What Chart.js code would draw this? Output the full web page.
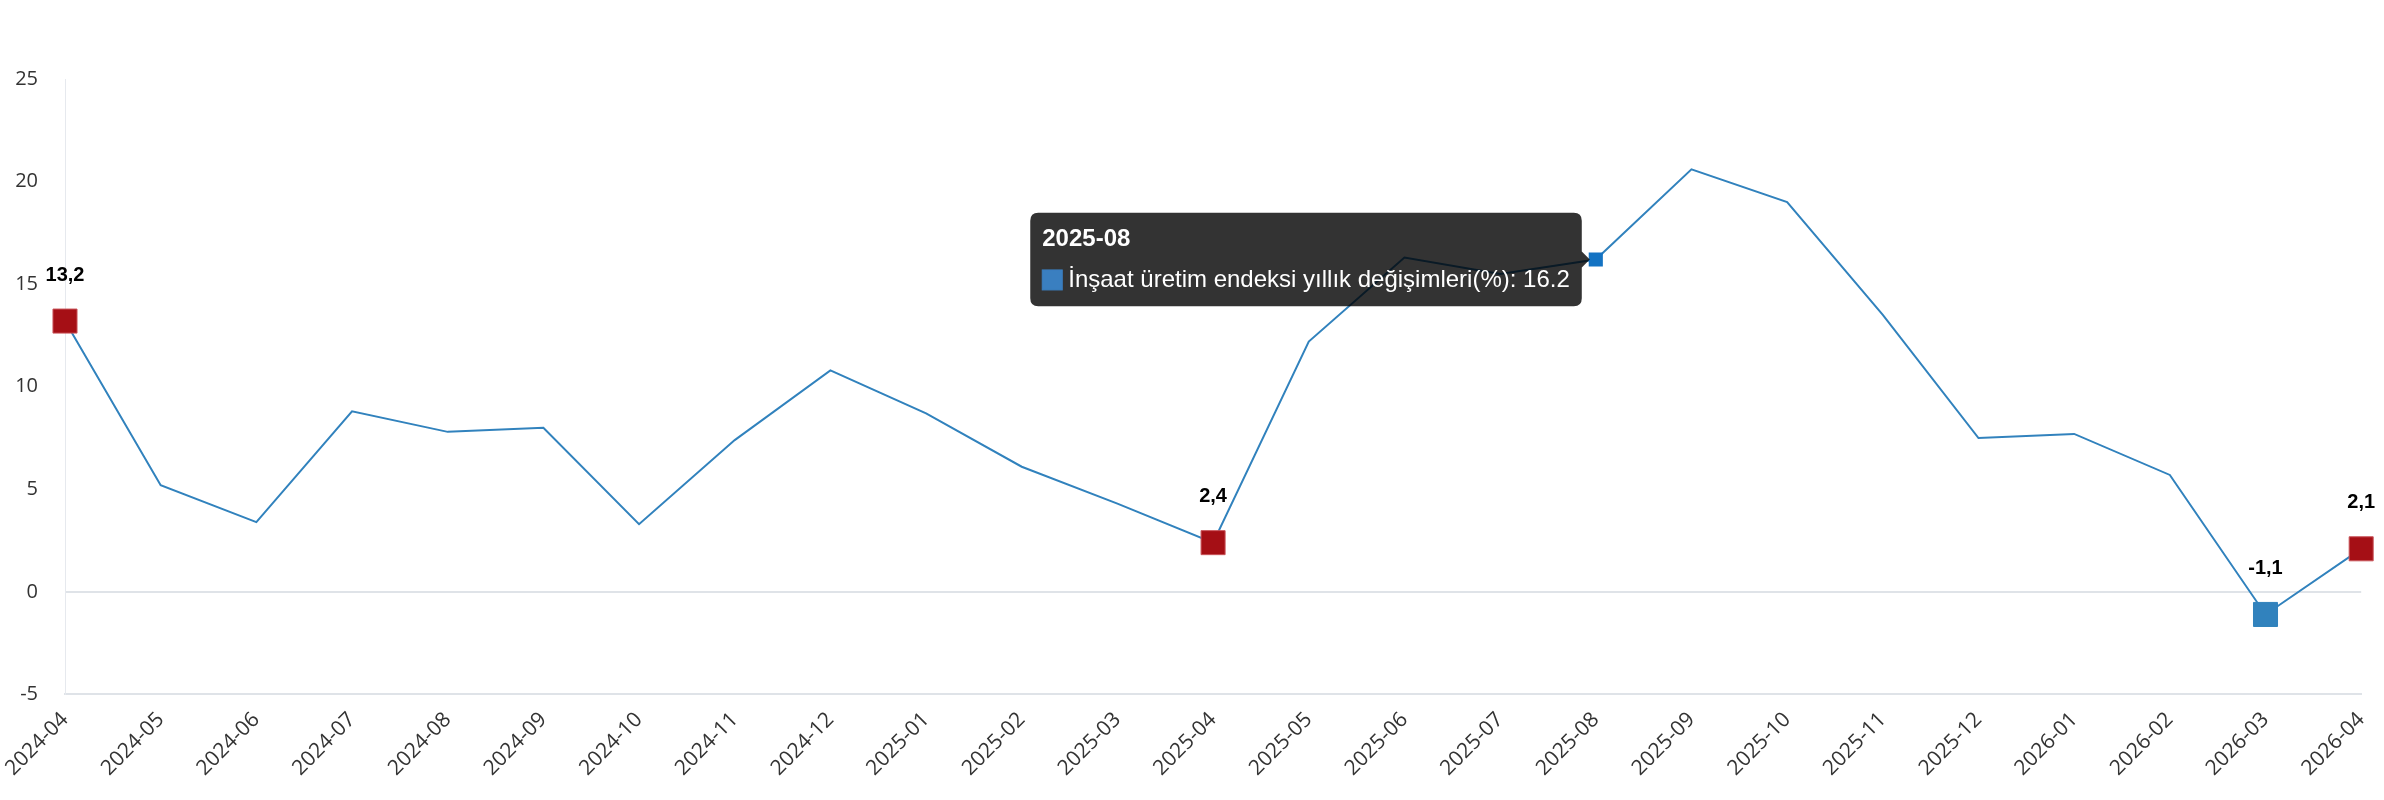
<!DOCTYPE html>
<html>
<head>
<meta charset="utf-8">
<script src="https://cdn.jsdelivr.net/npm/chart.js@4/dist/chart.umd.min.js"></script>
<style>
html,body{margin:0;padding:0;background:#fff;}
#wrap{width:2384px;height:800px;}
</style>
</head>
<body>
<div id="wrap"><canvas id="c" width="2384" height="800"></canvas></div>
<script>
const categories = ['2024-04','2024-05','2024-06','2024-07','2024-08','2024-09','2024-10','2024-11','2024-12',
  '2025-01','2025-02','2025-03','2025-04','2025-05','2025-06','2025-07','2025-08','2025-09','2025-10','2025-11','2025-12',
  '2026-01','2026-02','2026-03','2026-04'];
const values = [13.2, 5.2, 3.4, 8.8, 7.8, 8.0, 3.3, 7.4, 10.8, 8.7, 6.1, 4.3, 2.4, 12.2, 16.3, 15.5, 16.2, 20.6, 19.0, 13.5, 7.5, 7.7, 5.7, -1.1, 2.1];
const seriesName = 'İnşaat üretim endeksi yıllık değişimleri(%)';
const redPoints = ['2024-04','2025-04','2026-04'];
const bluePoints = ['2026-03'];
const hoveredCategory = '2025-08';
const yTicks = [-5, 0, 5, 10, 15, 20, 25];

const LINE = '#3182bd';
const RED = '#a50f15';
const TIP_BOX = '#3a7fc0';

function isMarked(i){ return redPoints.includes(categories[i]) || bluePoints.includes(categories[i]); }

const labelPlugin = {
  id: 'valueLabels',
  afterDatasetsDraw(chart){
    const ctx = chart.ctx;
    const meta = chart.getDatasetMeta(0);
    const ys = chart.scales.y;
    ctx.save();
    ctx.font = 'bold 20px "Liberation Sans", Arial, sans-serif';
    ctx.fillStyle = '#000';
    ctx.textAlign = 'center';
    ctx.textBaseline = 'middle';
    meta.data.forEach((pt, i) => {
      if (!isMarked(i)) return;
      const v = values[i];
      const y = ys.getPixelForValue(v) - 46;
      ctx.fillText(String(v).replace('.', ','), pt.x, y);
    });
    ctx.restore();
  }
};

const chart = new Chart(document.getElementById('c'), {
  type: 'line',
  data: {
    labels: categories,
    datasets: [{
      label: seriesName,
      data: values,
      borderColor: LINE,
      borderWidth: 2,
      backgroundColor: LINE,
      tension: 0,
      pointStyle: 'rect',
      pointRadius: c => isMarked(c.dataIndex) ? 17 : 0,
      pointBackgroundColor: c => redPoints.includes(categories[c.dataIndex]) ? RED : LINE,
      pointBorderColor: c => redPoints.includes(categories[c.dataIndex]) ? '#c9545a' : LINE,
      pointBorderWidth: 1,
      pointHoverRadius: c => isMarked(c.dataIndex) ? 17 : 10,
      pointHoverBackgroundColor: '#1473c3',
      pointHoverBorderColor: '#1473c3',
      pointHoverBorderWidth: 0,
      pointHitRadius: 0
    }]
  },
  options: {
    responsive: false,
    devicePixelRatio: 1,
    animation: false,
    events: [],
    layout: { padding: { top: 79, right: 13, left: 0, bottom: 14 } },
    plugins: {
      legend: { display: false },
      tooltip: {
        enabled: true,
        backgroundColor: 'rgba(0,0,0,0.8)',
        titleFont: { family: '"Liberation Sans", Arial, sans-serif', size: 24, weight: 'bold' },
        bodyFont: { family: '"Liberation Sans", Arial, sans-serif', size: 24 },
        titleMarginBottom: 12,
        padding: 12,
        caretSize: 8,
        caretPadding: 6,
        cornerRadius: 8,
        boxWidth: 20,
        boxHeight: 20,
        boxPadding: 4,
        multiKeyBackground: TIP_BOX,
        displayColors: true,
        callbacks: {
          labelColor: () => ({ borderColor: TIP_BOX, backgroundColor: TIP_BOX, borderWidth: 1 })
        }
      }
    },
    scales: {
      x: {
        offset: false,
        grid: { display: false },
        border: { display: true, color: '#dfe3e8', width: 2 },
        ticks: {
          autoSkip: false,
          minRotation: 45, maxRotation: 45,
          padding: 5,
          color: '#333',
          font: { family: '"Open Sans", sans-serif', size: 21 }
        }
      },
      y: {
        min: -5, max: 25,
        afterBuildTicks: s => { s.ticks = yTicks.map(v => ({ value: v })); },
        afterFit: s => { s.width = 65; },
        grid: {
          drawTicks: false,
          color: c => c.tick && c.tick.value === 0 ? '#dfe3e8' : 'rgba(0,0,0,0)',
          lineWidth: 2
        },
        border: { display: true, color: '#e6e9ee', width: 1 },
        ticks: {
          padding: 27,
          color: '#333',
          font: { family: '"Open Sans", sans-serif', size: 20 }
        }
      }
    }
  },
  plugins: [labelPlugin]
});

const hi = categories.indexOf(hoveredCategory);
const el = chart.getDatasetMeta(0).data[hi];
chart.setActiveElements([{ datasetIndex: 0, index: hi }]);
chart.tooltip.setActiveElements([{ datasetIndex: 0, index: hi }], { x: el.x, y: el.y });
chart.update();
</script>
</body>
</html>
